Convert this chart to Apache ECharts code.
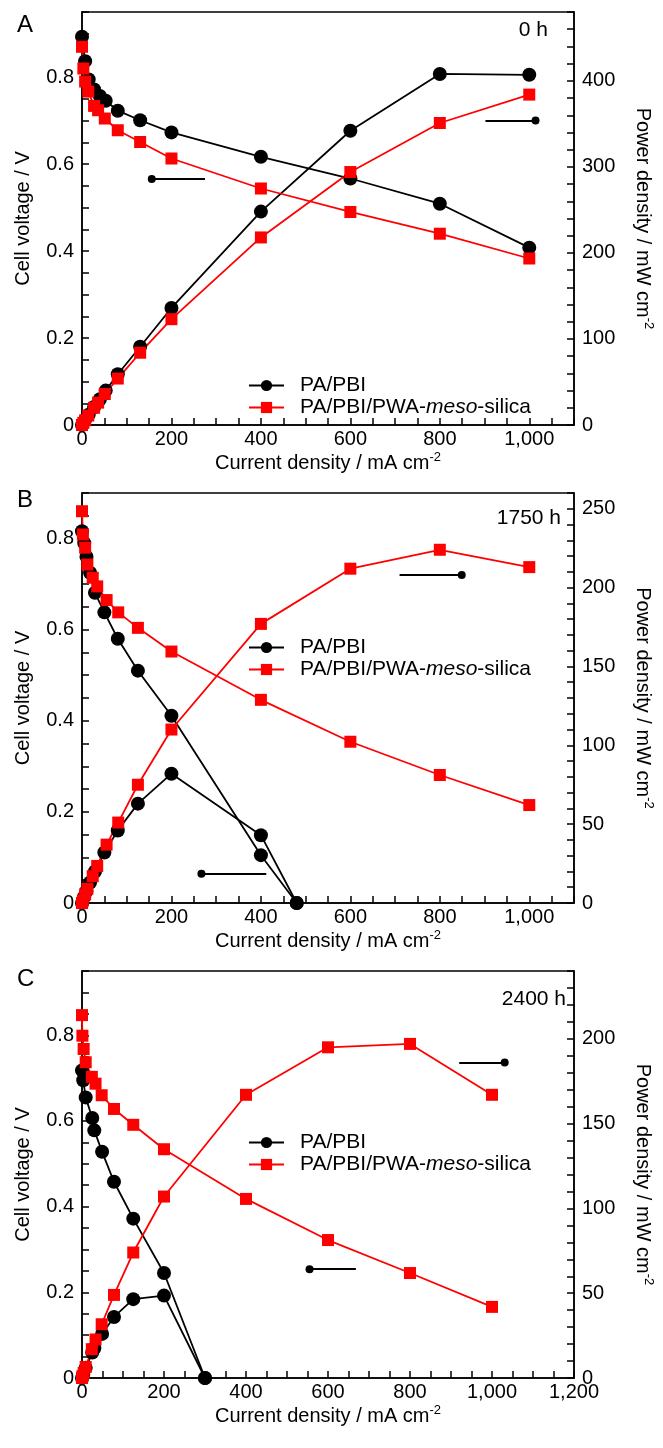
<!DOCTYPE html>
<html>
<head>
<meta charset="utf-8">
<script src="https://cdn.jsdelivr.net/npm/echarts@6.0.0/dist/echarts.min.js"></script>
<style>
  body { margin: 0; background: #fff; }
  #chart { width: 663px; height: 1448px; }
</style>
</head>
<body>
<div id="chart"></div>
<script>
// legend names
var names = ['PA/PBI', 'PA/PBI/PWA-meso-silica'];

// panel A, 0 h  (current density mA cm-2, voltage V, power mW cm-2)
var aPbiI = [0, 7, 15, 27, 40, 53, 80, 130, 200, 400, 600, 800, 1000];
var aPbiV = [0.893, 0.837, 0.795, 0.772, 0.757, 0.746, 0.723, 0.701, 0.673, 0.617, 0.567, 0.509, 0.408];
var aPbiP = [0, 6, 12, 21, 30, 40, 59, 91, 136, 248, 342, 408, 407];
var aMesoI = [0, 3, 7, 14, 27, 36, 51, 80, 130, 200, 400, 600, 800, 1000];
var aMesoV = [0.870, 0.820, 0.790, 0.767, 0.734, 0.724, 0.705, 0.678, 0.651, 0.613, 0.544, 0.490, 0.440, 0.383];
var aMesoP = [0, 2.5, 5.5, 11, 20, 26, 36, 54, 84, 123, 218, 294, 351, 384];

// panel B, 1750 h
var bPbiI = [0, 5, 10, 18, 29, 50, 80, 125, 200, 400, 480];
var bPbiV = [0.816, 0.79, 0.76, 0.725, 0.681, 0.638, 0.580, 0.510, 0.411, 0.105, 0];
var bPbiP = [0, 4, 7.6, 13, 20, 32, 46, 63, 82, 43, 0];
var bMesoI = [0, 2, 7, 12, 24, 34, 55, 81, 125, 200, 400, 600, 800, 1000];
var bMesoV = [0.860, 0.809, 0.780, 0.743, 0.714, 0.695, 0.665, 0.638, 0.604, 0.552, 0.446, 0.354, 0.281, 0.215];
var bMesoP = [0, 1.6, 5.5, 9, 17, 23.5, 37, 51, 75, 110, 177, 212, 224, 213];

// panel C, 2400 h
var cPbiI = [0, 3, 9, 25, 30, 49, 78, 125, 200, 300];
var cPbiV = [0.718, 0.695, 0.655, 0.607, 0.578, 0.528, 0.458, 0.372, 0.245, 0];
var cPbiP = [0, 2, 6, 15, 17.5, 26, 36, 46.5, 48.6, 0];
var cMesoI = [0, 1, 4, 9, 24, 33, 48, 78, 125, 200, 400, 600, 800, 1000];
var cMesoV = [0.847, 0.799, 0.768, 0.737, 0.703, 0.687, 0.660, 0.628, 0.591, 0.534, 0.418, 0.322, 0.245, 0.166];
var cMesoP = [0, 1, 3, 6.5, 17, 22.7, 31.7, 49, 74, 107, 167, 195, 197, 167];

// axis ranges and ticks
var panelLetters = ['A', 'B', 'C'];
var panelTimes = ['0 h', '1750 h', '2400 h'];
var xMax = [1100, 1100, 1200];
var xLabelStep = 200;
var vMax = [0.95, 0.9, 0.95];
var pMax = [480, 260, 240];
var pTick = [20, 10, 10];
var pLabelStep = [100, 50, 50];

// annotation arrows [from, to] (x, y in axis units)
var arrowsV = [[[275, 0.566], [156, 0.566]], [[412, 0.064], [267, 0.064]], [[668, 0.254], [555, 0.254]]];
var arrowsP = [[[902, 354], [1014, 354]], [[710, 208], [849, 208]], [[920, 186], [1031, 186]]];

var panels = [
  [aPbiI, aPbiV, aPbiP, aMesoI, aMesoV, aMesoP],
  [bPbiI, bPbiV, bPbiP, bMesoI, bMesoV, bMesoP],
  [cPbiI, cPbiV, cPbiP, cMesoI, cMesoV, cMesoP]
];

var FONT = 'Liberation Sans, Arial, Helvetica, sans-serif';
var gridTop = [12, 493, 971];
var gridH = [413, 410, 407];
var legendTop = [375, 637, 1132];
var timeTop = [20, 508, 989];
var letterTop = [13, 488, 967];

function pairs(I, Y) { return I.map(function (x, i) { return [x, Y[i]]; }); }
function fmtX(v) {
  if (v % xLabelStep !== 0) return '';
  if (v >= 1000) return Math.floor(v / 1000) + ',' + String(v % 1000).padStart(3, '0');
  return String(v);
}
function fmtV(v) {
  if (Math.abs(v * 5 - Math.round(v * 5)) > 1e-6) return '';
  return v === 0 ? '0' : v.toFixed(1);
}

var axisLine = { show: true, lineStyle: { color: '#000', width: 1.5 } };
var axisTick = { show: true, inside: true, length: 7, lineStyle: { color: '#000', width: 1.5 } };
var labelStyle = { color: '#000', fontSize: 20, fontFamily: FONT };
var nameStyle = {
  color: '#000', fontSize: 20, fontFamily: FONT, lineHeight: 24,
  rich: { sup: { fontSize: 13, lineHeight: 13, verticalAlign: 'top', fontFamily: FONT, color: '#000' } }
};

var option = {
  animation: false,
  backgroundColor: '#fff',
  title: [],
  legend: [],
  grid: [],
  xAxis: [],
  yAxis: [],
  series: []
};

for (var k = 0; k < 3; k++) {
  option.grid.push({
    left: 82, right: 88, top: gridTop[k], height: gridH[k],
    show: true, borderColor: '#000', borderWidth: 1.5, backgroundColor: 'transparent'
  });
  option.xAxis.push({
    type: 'value', gridIndex: k, min: 0, max: xMax[k], interval: 50,
    axisLine: axisLine, axisTick: axisTick, splitLine: { show: false },
    axisLabel: Object.assign({ margin: 4, formatter: fmtX }, labelStyle),
    name: 'Current density / mA cm{sup|-2}', nameLocation: 'middle', nameGap: 26,
    nameTextStyle: nameStyle
  });
  option.yAxis.push({
    type: 'value', gridIndex: k, position: 'left', min: 0, max: vMax[k], interval: 0.05,
    axisLine: axisLine, axisTick: axisTick, splitLine: { show: false },
    axisLabel: Object.assign({ margin: 8, formatter: fmtV }, labelStyle),
    name: 'Cell voltage / V', nameLocation: 'middle', nameRotate: 90, nameGap: 46,
    nameTextStyle: nameStyle
  });
  (function (step) {
    option.yAxis.push({
      type: 'value', gridIndex: k, position: 'right', min: 0, max: pMax[k], interval: pTick[k],
      axisLine: axisLine, axisTick: axisTick, splitLine: { show: false },
      axisLabel: Object.assign({ margin: 8, formatter: function (v) { return v % step === 0 ? String(v) : ''; } }, labelStyle),
      name: 'Power density / mW cm{sup|-2}', nameLocation: 'middle', nameRotate: -90, nameGap: 57,
      nameTextStyle: nameStyle
    });
  })(pLabelStep[k]);

  var d = panels[k];
  var mk = function (seg) {
    return {
      silent: true, symbol: ['none', 'circle'], symbolSize: 8,
      label: { show: false }, emphasis: { disabled: true },
      lineStyle: { color: '#000', width: 1.8, type: 'solid' },
      data: [[{ coord: seg[0] }, { coord: seg[1] }]]
    };
  };
  var black = { color: '#000' };
  var red = { color: '#ff0000' };
  option.series.push(
    { name: names[0], type: 'line', xAxisIndex: k, yAxisIndex: 2 * k, data: pairs(d[0], d[1]),
      symbol: 'circle', symbolSize: 14, itemStyle: black, lineStyle: { color: '#000', width: 1.8 },
      markLine: mk(arrowsV[k]) },
    { name: names[0], type: 'line', xAxisIndex: k, yAxisIndex: 2 * k + 1, data: pairs(d[0], d[2]),
      symbol: 'circle', symbolSize: 14, itemStyle: black, lineStyle: { color: '#000', width: 1.8 },
      markLine: mk(arrowsP[k]) },
    { name: names[1], type: 'line', xAxisIndex: k, yAxisIndex: 2 * k, data: pairs(d[3], d[4]),
      symbol: 'rect', symbolSize: 12, itemStyle: red, lineStyle: { color: '#ff0000', width: 1.8 } },
    { name: names[1], type: 'line', xAxisIndex: k, yAxisIndex: 2 * k + 1, data: pairs(d[3], d[5]),
      symbol: 'rect', symbolSize: 12, itemStyle: red, lineStyle: { color: '#ff0000', width: 1.8 } }
  );

  option.legend.push({
    data: names, orient: 'vertical', left: 248, top: legendTop[k], padding: 0,
    itemWidth: 35, itemHeight: 14, itemGap: 1, selectedMode: false,
    formatter: function (n) {
      return n === names[1] ? '{g| }{n|PA/PBI/PWA-}{i|meso}{n|-silica}' : '{g| }{n|PA/PBI}';
    },
    textStyle: {
      color: '#000', fontSize: 21, fontFamily: FONT,
      rich: {
        g: { width: 11 },
        n: { fontSize: 21, lineHeight: 23, fontFamily: FONT, color: '#000' },
        i: { fontSize: 21, lineHeight: 23, fontFamily: FONT, color: '#000', fontStyle: 'italic' }
      }
    }
  });

  option.title.push(
    { text: panelLetters[k], left: 17, top: letterTop[k], padding: 0,
      textStyle: { color: '#000', fontSize: 24, fontWeight: 'normal', fontFamily: FONT } },
    { text: panelTimes[k], right: [115, 102, 97][k], top: timeTop[k], padding: 0,
      textStyle: { color: '#000', fontSize: 21, fontWeight: 'normal', fontFamily: FONT } }
  );
}

var chart = echarts.init(document.getElementById('chart'), null, { renderer: 'canvas' });
chart.setOption(option);
</script>
</body>
</html>
